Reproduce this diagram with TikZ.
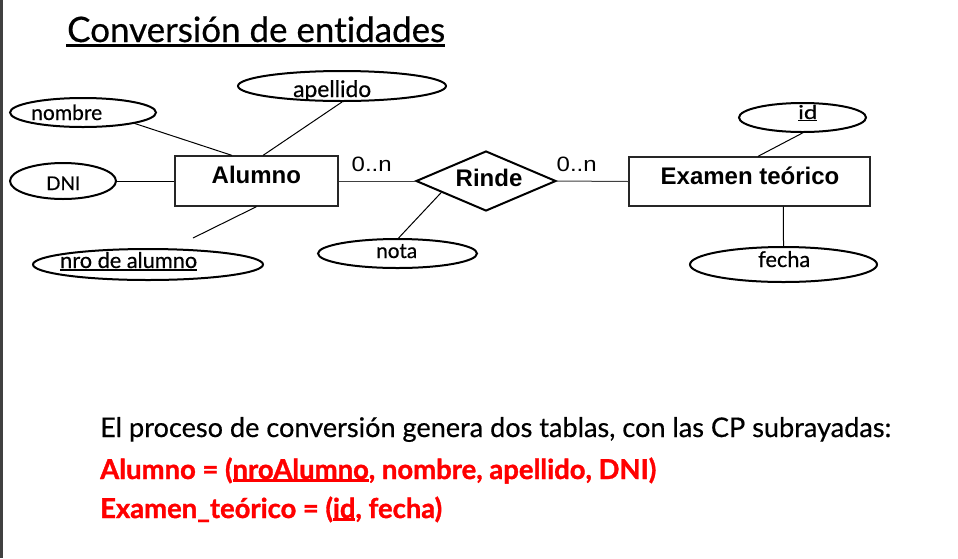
\documentclass[tikz,border=0pt]{standalone}
\usepackage{fontspec}
\setmainfont{Lato}[Ligatures={NoCommon}, UprightFeatures={FakeBold=0.5}, BoldFeatures={FakeBold=1.2}]
\newfontfamily\arialf{Liberation Sans}
\usetikzlibrary{shapes.geometric,calc}
\newcommand\fitw[2]{\resizebox{#1}{!}{#2}}
\newsavebox\ulbox
\newcommand\ulx[2][1.6pt]{\sbox\ulbox{#2}\rlap{\rule[-2.4pt]{\wd\ulbox}{#1}}\usebox\ulbox}
\begin{document}
\begin{tikzpicture}[x=1pt,y=-1pt,
  ent/.style={draw=black!85, line width=1.3pt, rectangle, inner sep=0pt},
  att/.style={draw=black, line width=2pt, ellipse, inner sep=0pt},
  rel/.style={draw=black, line width=2pt, diamond, inner sep=0pt},
  con/.style={line width=1pt, draw=black},
  lbl/.style={inner sep=0pt, anchor=base west},
  attfont/.style={font=\fontsize{20}{24}\selectfont},
  entfont/.style={font=\arialf\bfseries\fontsize{24}{28}\selectfont}]
\useasboundingbox (0,0) rectangle (958,558);
\fill[white] (0,0) rectangle (958,558);
\draw[line width=2.5pt, black!75] (1.25,0) -- (1.25,558);

% title
\node[lbl, font=\fontsize{34}{40}\selectfont] (title) at (67,42) {\fitw{378pt}{Conversión de entidades}};
\draw[line width=3pt] ($(title.base west)+(-1,3)$) -- ($(title.base east)+(0,3)$);

% attributes
\node[att, minimum width=146pt, minimum height=29pt] (enombre) at (83,112.5) {};
\node[att, minimum width=208pt, minimum height=30pt] (eapellido) at (342,86) {};
\node[att, minimum width=106pt, minimum height=36pt] (edni) at (63,181) {};
\node[att, minimum width=230pt, minimum height=31pt] (enro) at (148,264.5) {};
\node[att, minimum width=159pt, minimum height=29pt] (enota) at (397.5,253.5) {};
\node[att, minimum width=127pt, minimum height=29pt] (eid) at (802.5,117.5) {};
\node[att, minimum width=187pt, minimum height=35pt] (efecha) at (783.5,264.5) {};

% entities and relationship
\node[ent, minimum width=163pt, minimum height=50pt] (alumno) at (256.5,181) {};
\node[ent, minimum width=241pt, minimum height=49pt] (examen) at (749.5,181.5) {};
\node[rel, minimum width=140pt, minimum height=60pt] (rinde) at (486,181) {};

% connectors
\draw[con] (enombre.-12) -- ($(alumno.north west)!0.35!(alumno.north east)$);
\draw[con] (eapellido.south) -- ($(alumno.north west)!0.54!(alumno.north east)$);
\draw[con] (edni.east) -- (alumno.west);
\coordinate (nroend) at (193,238);
\draw[con] ($(alumno.south west)!0.5!(alumno.south east)$) -- (nroend);
\draw[con, draw=black!75] (alumno.east) -- (rinde.west);
\draw[con] ($(rinde.west)!0.37!(rinde.south)$) -- (enota.86);
\draw[con, draw=black!75] (rinde.east) -- (examen.west);
\draw[con] (eid.south) -- ($(examen.north west)!0.535!(examen.north east)$);
\draw[con] ($(examen.south west)!0.64!(examen.south east)$) -- (efecha.north);

% attribute labels
\node[lbl, attfont] (tnombre) at (31,120) {\fitw{71pt}{nombre}};
\node[lbl, attfont] (tapellido) at (293,97) {\fitw{78pt}{apellido}};
\node[lbl, attfont] (tdni) at (46,190) {\fitw{34pt}{DNI}};
\node[lbl, attfont] (tnro) at (60,268) {\fitw{137pt}{\ulx[1.3pt]{nro de alumno}}};
\node[lbl, attfont] (tnota) at (376,258) {\fitw{41pt}{nota}};
\node[lbl, attfont] (tid) at (798,119) {\resizebox{19pt}{14pt}{\ulx[1.5pt]{id}}};
\node[lbl, attfont] (tfecha) at (758,267) {\fitw{52pt}{fecha}};

% entity / relationship labels
\node[lbl, entfont] (talumno) at (211.5,183) {Alumno};
\node[lbl, entfont] (texamen) at (660.5,184) {Examen teórico};
\node[lbl, entfont] (trinde) at (455.5,186) {Rinde};
\node[lbl, font=\arialf\fontsize{21}{24}\selectfont] (card1) at (351.5,171) {\resizebox{40pt}{14.5pt}{0..n}};
\node[lbl, font=\arialf\fontsize{21}{24}\selectfont] (card2) at (556.5,171) {\resizebox{40pt}{14.5pt}{0..n}};

% text below
\node[lbl, font=\fontsize{25}{30}\selectfont] (line1) at (100,437) {\fitw{791pt}{El proceso de conversión genera dos tablas, con las CP subrayadas:}};
\node[lbl, font=\bfseries\fontsize{26}{30}\selectfont, text=red] (line2) at (100,479) {\fitw{556pt}{Alumno = (\ulx[2pt]{nroAlumno}, nombre, apellido, DNI)}};
\node[lbl, font=\bfseries\fontsize{26}{30}\selectfont, text=red] (line3) at (100,518) {\fitw{342pt}{Examen\_teórico = (\ulx[2pt]{id}, fecha)}};
\end{tikzpicture}
\end{document}
